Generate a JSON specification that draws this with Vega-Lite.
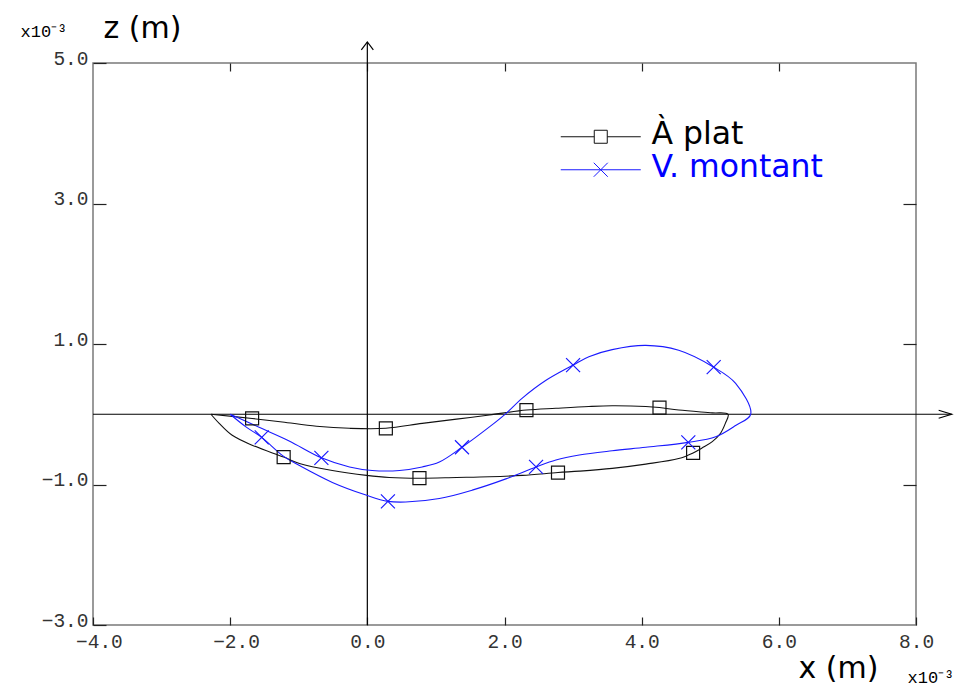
{
  "$schema": "https://vega.github.io/schema/vega-lite/v6.json",
  "width": 823,
  "height": 562,
  "autosize": {"type": "none"},
  "padding": {"left": 93, "top": 63, "right": 57, "bottom": 65},
  "background": "white",
  "config": {
    "view": {"stroke": "#7a7a7a", "strokeWidth": 1.5},
    "font": "DejaVu Sans",
    "axis": {"grid": false, "domain": false, "labelFlush": false, "labelOverlap": false, "tickColor": "#222222", "tickWidth": 1.2, "labelColor": "#333333", "titleColor": "#000000", "titleFontWeight": "normal"}
  },
  "datasets": {
    "curves": [
      {"s": "À plat", "i": 0, "x": -2.28, "z": 0.0, "m": 0},
      {"s": "À plat", "i": 1, "x": -1.68, "z": -0.06, "m": 1},
      {"s": "À plat", "i": 2, "x": -1.24, "z": -0.11, "m": 0},
      {"s": "À plat", "i": 3, "x": -0.74, "z": -0.17, "m": 0},
      {"s": "À plat", "i": 4, "x": -0.26, "z": -0.2, "m": 0},
      {"s": "À plat", "i": 5, "x": 0.27, "z": -0.2, "m": 1},
      {"s": "À plat", "i": 6, "x": 0.8, "z": -0.13, "m": 0},
      {"s": "À plat", "i": 7, "x": 1.3, "z": -0.07, "m": 0},
      {"s": "À plat", "i": 8, "x": 1.78, "z": -0.01, "m": 0},
      {"s": "À plat", "i": 9, "x": 2.32, "z": 0.06, "m": 1},
      {"s": "À plat", "i": 10, "x": 2.75, "z": 0.085, "m": 0},
      {"s": "À plat", "i": 11, "x": 3.23, "z": 0.11, "m": 0},
      {"s": "À plat", "i": 12, "x": 3.57, "z": 0.12, "m": 0},
      {"s": "À plat", "i": 13, "x": 4.06, "z": 0.11, "m": 0},
      {"s": "À plat", "i": 14, "x": 4.26, "z": 0.095, "m": 1},
      {"s": "À plat", "i": 15, "x": 4.54, "z": 0.06, "m": 0},
      {"s": "À plat", "i": 16, "x": 5.03, "z": 0.02, "m": 0},
      {"s": "À plat", "i": 17, "x": 5.26, "z": 0.0, "m": 0},
      {"s": "À plat", "i": 18, "x": 5.22, "z": -0.13, "m": 0},
      {"s": "À plat", "i": 19, "x": 5.15, "z": -0.27, "m": 0},
      {"s": "À plat", "i": 20, "x": 5.03, "z": -0.39, "m": 0},
      {"s": "À plat", "i": 21, "x": 4.88, "z": -0.48, "m": 0},
      {"s": "À plat", "i": 22, "x": 4.75, "z": -0.55, "m": 1},
      {"s": "À plat", "i": 23, "x": 4.54, "z": -0.63, "m": 0},
      {"s": "À plat", "i": 24, "x": 4.06, "z": -0.71, "m": 0},
      {"s": "À plat", "i": 25, "x": 3.57, "z": -0.77, "m": 0},
      {"s": "À plat", "i": 26, "x": 3.09, "z": -0.81, "m": 0},
      {"s": "À plat", "i": 27, "x": 2.78, "z": -0.83, "m": 1},
      {"s": "À plat", "i": 28, "x": 2.26, "z": -0.87, "m": 0},
      {"s": "À plat", "i": 29, "x": 1.78, "z": -0.89, "m": 0},
      {"s": "À plat", "i": 30, "x": 1.3, "z": -0.9, "m": 0},
      {"s": "À plat", "i": 31, "x": 0.76, "z": -0.91, "m": 1},
      {"s": "À plat", "i": 32, "x": 0.32, "z": -0.9, "m": 0},
      {"s": "À plat", "i": 33, "x": -0.01, "z": -0.87, "m": 0},
      {"s": "À plat", "i": 34, "x": -0.51, "z": -0.8, "m": 0},
      {"s": "À plat", "i": 35, "x": -0.99, "z": -0.7, "m": 0},
      {"s": "À plat", "i": 36, "x": -1.22, "z": -0.61, "m": 1},
      {"s": "À plat", "i": 37, "x": -1.68, "z": -0.44, "m": 0},
      {"s": "À plat", "i": 38, "x": -1.97, "z": -0.3, "m": 0},
      {"s": "À plat", "i": 39, "x": -2.16, "z": -0.13, "m": 0},
      {"s": "À plat", "i": 40, "x": -2.28, "z": 0.0, "m": 0},
      {"s": "V. montant", "i": 0, "x": -2.0, "z": 0.0, "m": 0},
      {"s": "V. montant", "i": 1, "x": -1.86, "z": -0.06, "m": 0},
      {"s": "V. montant", "i": 2, "x": -1.57, "z": -0.19, "m": 0},
      {"s": "V. montant", "i": 3, "x": -1.14, "z": -0.38, "m": 0},
      {"s": "V. montant", "i": 4, "x": -0.67, "z": -0.62, "m": 1},
      {"s": "V. montant", "i": 5, "x": -0.26, "z": -0.75, "m": 0},
      {"s": "V. montant", "i": 6, "x": 0.07, "z": -0.8, "m": 0},
      {"s": "V. montant", "i": 7, "x": 0.47, "z": -0.8, "m": 0},
      {"s": "V. montant", "i": 8, "x": 0.8, "z": -0.75, "m": 0},
      {"s": "V. montant", "i": 9, "x": 1.05, "z": -0.68, "m": 0},
      {"s": "V. montant", "i": 10, "x": 1.38, "z": -0.47, "m": 1},
      {"s": "V. montant", "i": 11, "x": 1.78, "z": -0.18, "m": 0},
      {"s": "V. montant", "i": 12, "x": 2.02, "z": 0.01, "m": 0},
      {"s": "V. montant", "i": 13, "x": 2.26, "z": 0.23, "m": 0},
      {"s": "V. montant", "i": 14, "x": 2.6, "z": 0.48, "m": 0},
      {"s": "V. montant", "i": 15, "x": 3.0, "z": 0.7, "m": 1},
      {"s": "V. montant", "i": 16, "x": 3.23, "z": 0.82, "m": 0},
      {"s": "V. montant", "i": 17, "x": 3.57, "z": 0.92, "m": 0},
      {"s": "V. montant", "i": 18, "x": 4.06, "z": 0.98, "m": 0},
      {"s": "V. montant", "i": 19, "x": 4.54, "z": 0.91, "m": 0},
      {"s": "V. montant", "i": 20, "x": 5.05, "z": 0.67, "m": 1},
      {"s": "V. montant", "i": 21, "x": 5.37, "z": 0.44, "m": 0},
      {"s": "V. montant", "i": 22, "x": 5.59, "z": 0.0, "m": 0},
      {"s": "V. montant", "i": 23, "x": 5.37, "z": -0.16, "m": 0},
      {"s": "V. montant", "i": 24, "x": 5.08, "z": -0.32, "m": 0},
      {"s": "V. montant", "i": 25, "x": 4.68, "z": -0.4, "m": 1},
      {"s": "V. montant", "i": 26, "x": 4.06, "z": -0.47, "m": 0},
      {"s": "V. montant", "i": 27, "x": 3.57, "z": -0.52, "m": 0},
      {"s": "V. montant", "i": 28, "x": 3.09, "z": -0.58, "m": 0},
      {"s": "V. montant", "i": 29, "x": 2.75, "z": -0.65, "m": 0},
      {"s": "V. montant", "i": 30, "x": 2.46, "z": -0.75, "m": 1},
      {"s": "V. montant", "i": 31, "x": 2.02, "z": -0.92, "m": 0},
      {"s": "V. montant", "i": 32, "x": 1.53, "z": -1.08, "m": 0},
      {"s": "V. montant", "i": 33, "x": 1.05, "z": -1.2, "m": 0},
      {"s": "V. montant", "i": 34, "x": 0.56, "z": -1.25, "m": 0},
      {"s": "V. montant", "i": 35, "x": 0.3, "z": -1.24, "m": 1},
      {"s": "V. montant", "i": 36, "x": -0.02, "z": -1.15, "m": 0},
      {"s": "V. montant", "i": 37, "x": -0.51, "z": -0.97, "m": 0},
      {"s": "V. montant", "i": 38, "x": -0.99, "z": -0.73, "m": 0},
      {"s": "V. montant", "i": 39, "x": -1.22, "z": -0.6, "m": 0},
      {"s": "V. montant", "i": 40, "x": -1.54, "z": -0.33, "m": 1},
      {"s": "V. montant", "i": 41, "x": -1.77, "z": -0.18, "m": 0},
      {"s": "V. montant", "i": 42, "x": -2.0, "z": 0.0, "m": 0}
    ]
  },
  "layer": [
    {
      "data": {"values": [{}]},
      "mark": {"type": "rule", "color": "#000000", "strokeWidth": 1.2},
      "encoding": {
        "x": {
          "datum": -4, "type": "quantitative",
          "scale": {"domain": [-4, 8], "nice": false, "zero": false},
          "axis": {
            "orient": "bottom", "values": [-4, -2, 0, 2, 4, 6, 8],
            "tickSize": -8,
            "labelFont": "Liberation Mono", "labelFontSize": 19.5,
            "labelAlign": "left", "labelBaseline": "top", "labelOffset": -17.5, "labelPadding": 15,
            "labelExpr": "(datum.value < 0 ? '' : '\u00a0') + format(datum.value, '.1f')",
            "title": "x (m)", "titleFont": "DejaVu Sans", "titleFontSize": 30,
            "titleAlign": "left", "titleBaseline": "middle", "titleX": 705, "titleY": 43
          }
        },
        "x2": {"datum": 8.52},
        "y": {
          "datum": 0, "type": "quantitative",
          "scale": {"domain": [-3, 5], "nice": false, "zero": false},
          "axis": {
            "orient": "left", "values": [-3, -1, 1, 3, 5],
            "tickSize": -13,
            "labelFont": "Liberation Mono", "labelFontSize": 19.5,
            "labelAlign": "right", "labelBaseline": "middle", "labelOffset": -5, "labelPadding": 18,
            "labelExpr": "format(datum.value, '.1f') + (datum.value < 0 ? '\u00a0' : '')",
            "title": "z (m)", "titleFont": "DejaVu Sans", "titleFontSize": 30, "titleAngle": 0,
            "titleAlign": "left", "titleBaseline": "middle", "titleX": 10, "titleY": -35
          }
        }
      }
    },
    {
      "data": {"values": [{}]},
      "mark": {"type": "rule", "color": "#000000", "strokeWidth": 1.2},
      "encoding": {
        "x": {
          "datum": 0, "type": "quantitative",
          "axis": {
            "orient": "top", "values": [-2, 0, 2, 4, 6], "tickSize": -8, "labels": false,
            "title": "x10\u207b\u00b3", "titleFont": "Liberation Mono", "titleFontSize": 17,
            "titleAlign": "left", "titleBaseline": "middle", "titleX": -73, "titleY": -32
          }
        },
        "y": {
          "datum": -3, "type": "quantitative",
          "axis": {
            "orient": "right", "values": [-1, 1, 3], "tickSize": -13, "labels": false,
            "title": "x10\u207b\u00b3", "titleFont": "Liberation Mono", "titleFontSize": 17, "titleAngle": 0,
            "titleAlign": "left", "titleBaseline": "middle", "titleX": -9, "titleY": 614
          }
        },
        "y2": {"datum": 5.3}
      }
    },
    {
      "data": {"values": [{}]},
      "mark": {"type": "point", "shape": "M-13,-4L0,0L-13,4", "size": 4, "filled": false, "stroke": "#000000", "strokeWidth": 1.2, "opacity": 1},
      "encoding": {
        "x": {"datum": 8.52, "type": "quantitative", "axis": null},
        "y": {"datum": 0, "type": "quantitative", "axis": null}
      }
    },
    {
      "data": {"values": [{}]},
      "mark": {"type": "point", "shape": "M-6,8L0,0L6,8", "size": 4, "filled": false, "stroke": "#000000", "strokeWidth": 1.2, "opacity": 1},
      "encoding": {
        "x": {"datum": 0, "type": "quantitative", "axis": null},
        "y": {"datum": 5.3, "type": "quantitative", "axis": null}
      }
    },
    {
      "data": {"name": "curves"},
      "mark": {"type": "line", "interpolate": "catmull-rom", "strokeWidth": 1.1},
      "encoding": {
        "x": {"field": "x", "type": "quantitative", "axis": null},
        "y": {"field": "z", "type": "quantitative", "axis": null},
        "order": {"field": "i", "type": "quantitative"},
        "color": {
          "field": "s", "type": "nominal",
          "scale": {"domain": ["À plat", "V. montant"], "range": ["#111111", "#1a1aff"]},
          "legend": {
            "orient": "none", "legendX": 492, "legendY": 58, "title": null,
            "padding": 0, "offset": 0,
            "symbolSize": 4, "symbolStrokeWidth": 1, "symbolFillColor": "transparent",
            "labelFont": "DejaVu Sans", "labelFontSize": 31.5, "labelOffset": 35, "rowPadding": 0,
            "labelLimit": 400,
            "encode": {
              "symbols": {"update": {
                "shape": {"signal": "datum.value === 'À plat' ? 'M-40,0H-6.5M6.5,0H40M-6.5,-6.5H6.5V6.5H-6.5Z' : 'M-40,-7H40M-7,-14L7,0M-7,0L7,-14'"},
                "fill": {"value": "transparent"}
              }},
              "labels": {"update": {
                "dy": {"signal": "datum.value === 'V. montant' ? -9 : -2"},
                "fill": {"signal": "datum.value === 'V. montant' ? '#0000ff' : '#000000'"}
              }}
            }
          }
        }
      }
    },
    {
      "data": {"name": "curves"},
      "transform": [{"filter": "datum.m == 1 && datum.s == 'À plat'"}],
      "mark": {"type": "point", "shape": "M-6.5,-6.5H6.5V6.5H-6.5Z", "size": 4, "filled": false, "stroke": "#111111", "strokeWidth": 1.2, "opacity": 1},
      "encoding": {
        "x": {"field": "x", "type": "quantitative", "axis": null},
        "y": {"field": "z", "type": "quantitative", "axis": null}
      }
    },
    {
      "data": {"name": "curves"},
      "transform": [{"filter": "datum.m == 1 && datum.s == 'V. montant'"}],
      "mark": {"type": "point", "shape": "M-7,-7L7,7M-7,7L7,-7", "size": 4, "filled": false, "stroke": "#1a1aff", "strokeWidth": 1.2, "opacity": 1},
      "encoding": {
        "x": {"field": "x", "type": "quantitative", "axis": null},
        "y": {"field": "z", "type": "quantitative", "axis": null}
      }
    }
  ],
  "resolve": {"axis": {"x": "independent", "y": "independent"}}
}
